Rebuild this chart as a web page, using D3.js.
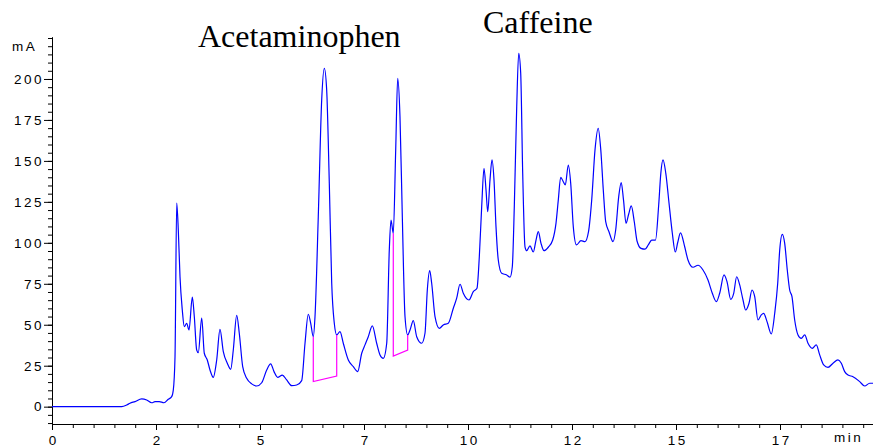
<!DOCTYPE html>
<meta charset="utf-8">
<style>
    body { margin: 0; background: #fff; }
    .tick text, .unit { font-family: "Liberation Sans", Arial, sans-serif; font-size: 13.5px; letter-spacing: 2.5px; fill: #000; }
    .title { font-family: "Liberation Serif", "Times New Roman", serif; font-size: 32px; fill: #000; }
</style>
<body>
    <svg width="873" height="446"></svg>
</body>
<script src="https://cdnjs.cloudflare.com/ajax/libs/d3/7.8.5/d3.min.js"></script>
<script>

    // retention time (min) and absorbance (mA)
    var times = [0, 1.676, 1.796, 1.875, 1.995, 2.156, 2.276, 2.397, 2.476, 2.579, 2.692, 2.796, 2.877, 2.916, 2.957,
        2.998, 3.036, 3.077, 3.132, 3.180, 3.238, 3.293, 3.373, 3.421, 3.478, 3.517, 3.599, 3.661, 3.733, 3.798,
        3.877, 3.959, 4.038, 4.118, 4.214, 4.296, 4.358, 4.440, 4.502, 4.584, 4.680, 4.800, 4.921, 5.041, 5.161,
        5.257, 5.337, 5.425, 5.536, 5.642, 5.762, 5.882, 6.002, 6.082, 6.161, 6.219, 6.281, 6.322, 6.401, 6.483,
        6.546, 6.603, 6.666, 6.724, 6.786, 6.844, 6.923, 7.002, 7.123, 7.243, 7.349, 7.445, 7.524, 7.603, 7.700,
        7.805, 7.885, 7.964, 8.046, 8.108, 8.149, 8.204, 8.262, 8.310, 8.365, 8.421, 8.486, 8.550, 8.606, 8.685,
        8.767, 8.887, 8.966, 9.022, 9.079, 9.127, 9.207, 9.310, 9.406, 9.526, 9.647, 9.728, 9.808, 9.887, 10.024,
        10.127, 10.216, 10.272, 10.329, 10.385, 10.433, 10.474, 10.529, 10.577, 10.625, 10.673, 10.728, 10.810, 10.930, 11.010,
        11.065, 11.113, 11.171, 11.219, 11.267, 11.315, 11.370, 11.411, 11.490, 11.570, 11.635, 11.690, 11.755, 11.827, 11.930,
        12.036, 12.115, 12.171, 12.228, 12.291, 12.339, 12.411, 12.469, 12.531, 12.608, 12.716, 12.812, 12.897, 12.974, 13.053,
        13.130, 13.192, 13.252, 13.310, 13.389, 13.486, 13.550, 13.623, 13.683, 13.738, 13.798, 13.863, 13.925, 13.998, 14.063,
        14.159, 14.255, 14.334, 14.416, 14.507, 14.584, 14.635, 14.688, 14.755, 14.832, 14.911, 14.983, 15.041, 15.108, 15.209,
        15.288, 15.409, 15.529, 15.649, 15.769, 15.873, 15.969, 16.050, 16.154, 16.226, 16.315, 16.387, 16.459, 16.531, 16.611,
        16.675, 16.755, 16.827, 16.892, 16.971, 17.050, 17.108, 17.188, 17.291, 17.373, 17.445, 17.493, 17.555, 17.613, 17.675,
        17.733, 17.788, 17.853, 17.933, 18.012, 18.094, 18.173, 18.276, 18.372, 18.454, 18.550, 18.654, 18.774, 18.894, 18.974,
        19.055, 19.135, 19.255, 19.416, 19.536, 19.656, 19.736];

    var signal = [0, 0, 1.0, 2.1, 3.1, 4.7, 4.1, 2.4, 3.1, 3.1, 2.4, 4.5, 6.1, 10.2, 30.5,
        124.3, 107.8, 79.3, 59.0, 48.8, 50.9, 46.8, 66.8, 54.9, 34.6, 33.0, 54.0, 32.6, 28.5, 22.4,
        17.9, 28.5, 47.2, 33.6, 26.5, 22.8, 34.6, 55.8, 44.8, 24.4, 17.3, 13.9, 12.6, 14.6, 22.4,
        26.1, 21.4, 17.9, 19.3, 16.3, 12.8, 13.2, 15.9, 38.7, 56.4, 50.9, 42.7, 54.9, 116.0, 187.2,
        206.5, 193.3, 136.3, 75.3, 50.9, 43.8, 45.8, 38.7, 28.5, 24.4, 21.4, 32.6, 37.7, 42.7, 49.3,
        38.7, 31.6, 29.5, 38.7, 95.6, 113.9, 105.8, 156.7, 200.4, 177.0, 116.0, 54.9, 43.8, 46.8, 52.5,
        42.7, 38.7, 44.8, 71.2, 83.0, 75.3, 54.9, 47.8, 49.9, 50.9, 60.1, 66.2, 74.7, 69.2, 65.1,
        70.2, 72.3, 91.5, 122.1, 145.5, 132.3, 119.0, 138.4, 150.6, 138.4, 109.9, 89.5, 81.4, 80.4, 79.0,
        85.4, 122.1, 183.1, 215.7, 203.5, 142.4, 97.6, 95.2, 98.1, 94.4, 101.7, 106.8, 99.7, 95.2, 97.3,
        101.7, 111.9, 126.2, 140.0, 137.3, 135.3, 147.5, 136.3, 109.9, 98.7, 101.4, 100.7, 106.8, 126.2, 156.7,
        169.9, 156.7, 132.3, 112.9, 106.8, 100.7, 107.8, 128.2, 136.8, 126.2, 111.9, 117.6, 122.5, 112.7, 101.1,
        96.6, 96.1, 98.7, 101.7, 101.7, 123.1, 142.4, 150.6, 142.4, 124.3, 106.0, 94.4, 100.2, 106.1, 97.6,
        89.5, 85.1, 86.3, 83.4, 77.3, 69.2, 64.1, 69.2, 80.4, 76.3, 65.5, 69.2, 79.3, 74.3, 65.1,
        59.0, 63.1, 71.2, 67.1, 52.9, 56.0, 57.0, 51.9, 44.4, 57.0, 75.3, 95.6, 105.2, 99.7, 83.4,
        71.2, 67.1, 52.9, 43.8, 41.7, 43.8, 38.7, 35.6, 37.7, 31.6, 25.5, 24.0, 26.5, 28.5, 26.5,
        21.4, 19.3, 18.3, 15.3, 12.6, 14.3, 14.3];

    // integration baselines: [start time, start top, start bottom, end time, end bottom, end top]
    var baselines = [
        [6.281, 42.7, 15.3, 6.844, 18.7, 43.8],
        [8.204, 105.8, 30.9, 8.550, 34.6, 43.8]
    ];

    var xTicks = [0, 2.5, 5, 7.5, 10, 12.5, 15, 17.5];
    var yTicks = [0, 25, 50, 75, 100, 125, 150, 175, 200];
    var peakNames = ["Acetaminophen", "Caffeine"];

    var svg = d3.select("svg");

    var x = d3.scaleLinear().domain([0, 20]).range([52, 884]);
    var y = d3.scaleLinear().domain([-10.7, 225.8]).range([424.2, 36.7]);

    // minor ticks first so the major ones sit on top
    svg.append("g")
        .attr("transform", "translate(0,424)")
        .call(d3.axisBottom(x).tickValues(d3.range(0, 20, 0.5)).tickSize(4).tickFormat(""))
        .call(g => g.select(".domain").remove());

    svg.append("g")
        .attr("transform", "translate(52,0)")
        .call(d3.axisLeft(y).tickValues(d3.range(-10, 226, 5)).tickSize(4).tickFormat(""))
        .call(g => g.select(".domain").remove());

    var xAxis = svg.append("g")
        .attr("transform", "translate(0,424)")
        .call(d3.axisBottom(x).tickValues(xTicks).tickSize(6).tickSizeOuter(0)
            .tickFormat(d => Math.floor(d)));
    xAxis.selectAll("text").attr("y", 20.5).attr("dy", null).attr("dx", 1.3);

    var yAxis = svg.append("g")
        .attr("transform", "translate(52,0)")
        .call(d3.axisLeft(y).tickValues(yTicks).tickSize(8).tickPadding(0).tickSizeOuter(0));

    svg.selectAll(".domain, .tick line").attr("stroke", "#000");

    svg.append("text").attr("class", "unit").attr("x", 12).attr("y", 50.5).text("mA");
    svg.append("text").attr("class", "unit").attr("x", 834).attr("y", 441.5).text("min");

    var line = d3.line()
        .x(d => x(d[0]))
        .y(d => y(d[1]))
        .curve(d3.curveMonotoneX);

    svg.append("path")
        .datum(d3.zip(times, signal))
        .attr("fill", "none")
        .attr("stroke", "#0000ff")
        .attr("stroke-width", 1.2)
        .attr("d", line);

    svg.selectAll(".baseline")
        .data(baselines)
        .enter()
        .append("path")
        .attr("class", "baseline")
        .attr("fill", "none")
        .attr("stroke", "#ff00ff")
        .attr("stroke-width", 1.2)
        .attr("d", d => d3.line()([
            [x(d[0]), y(d[1])], [x(d[0]), y(d[2])], [x(d[3]), y(d[4])], [x(d[3]), y(d[5])]
        ]));

    svg.append("text").attr("class", "title").attr("x", 198).attr("y", 46.5).text(peakNames[0]);
    svg.append("text").attr("class", "title").attr("x", 483).attr("y", 33.3).text(peakNames[1]);

</script>
